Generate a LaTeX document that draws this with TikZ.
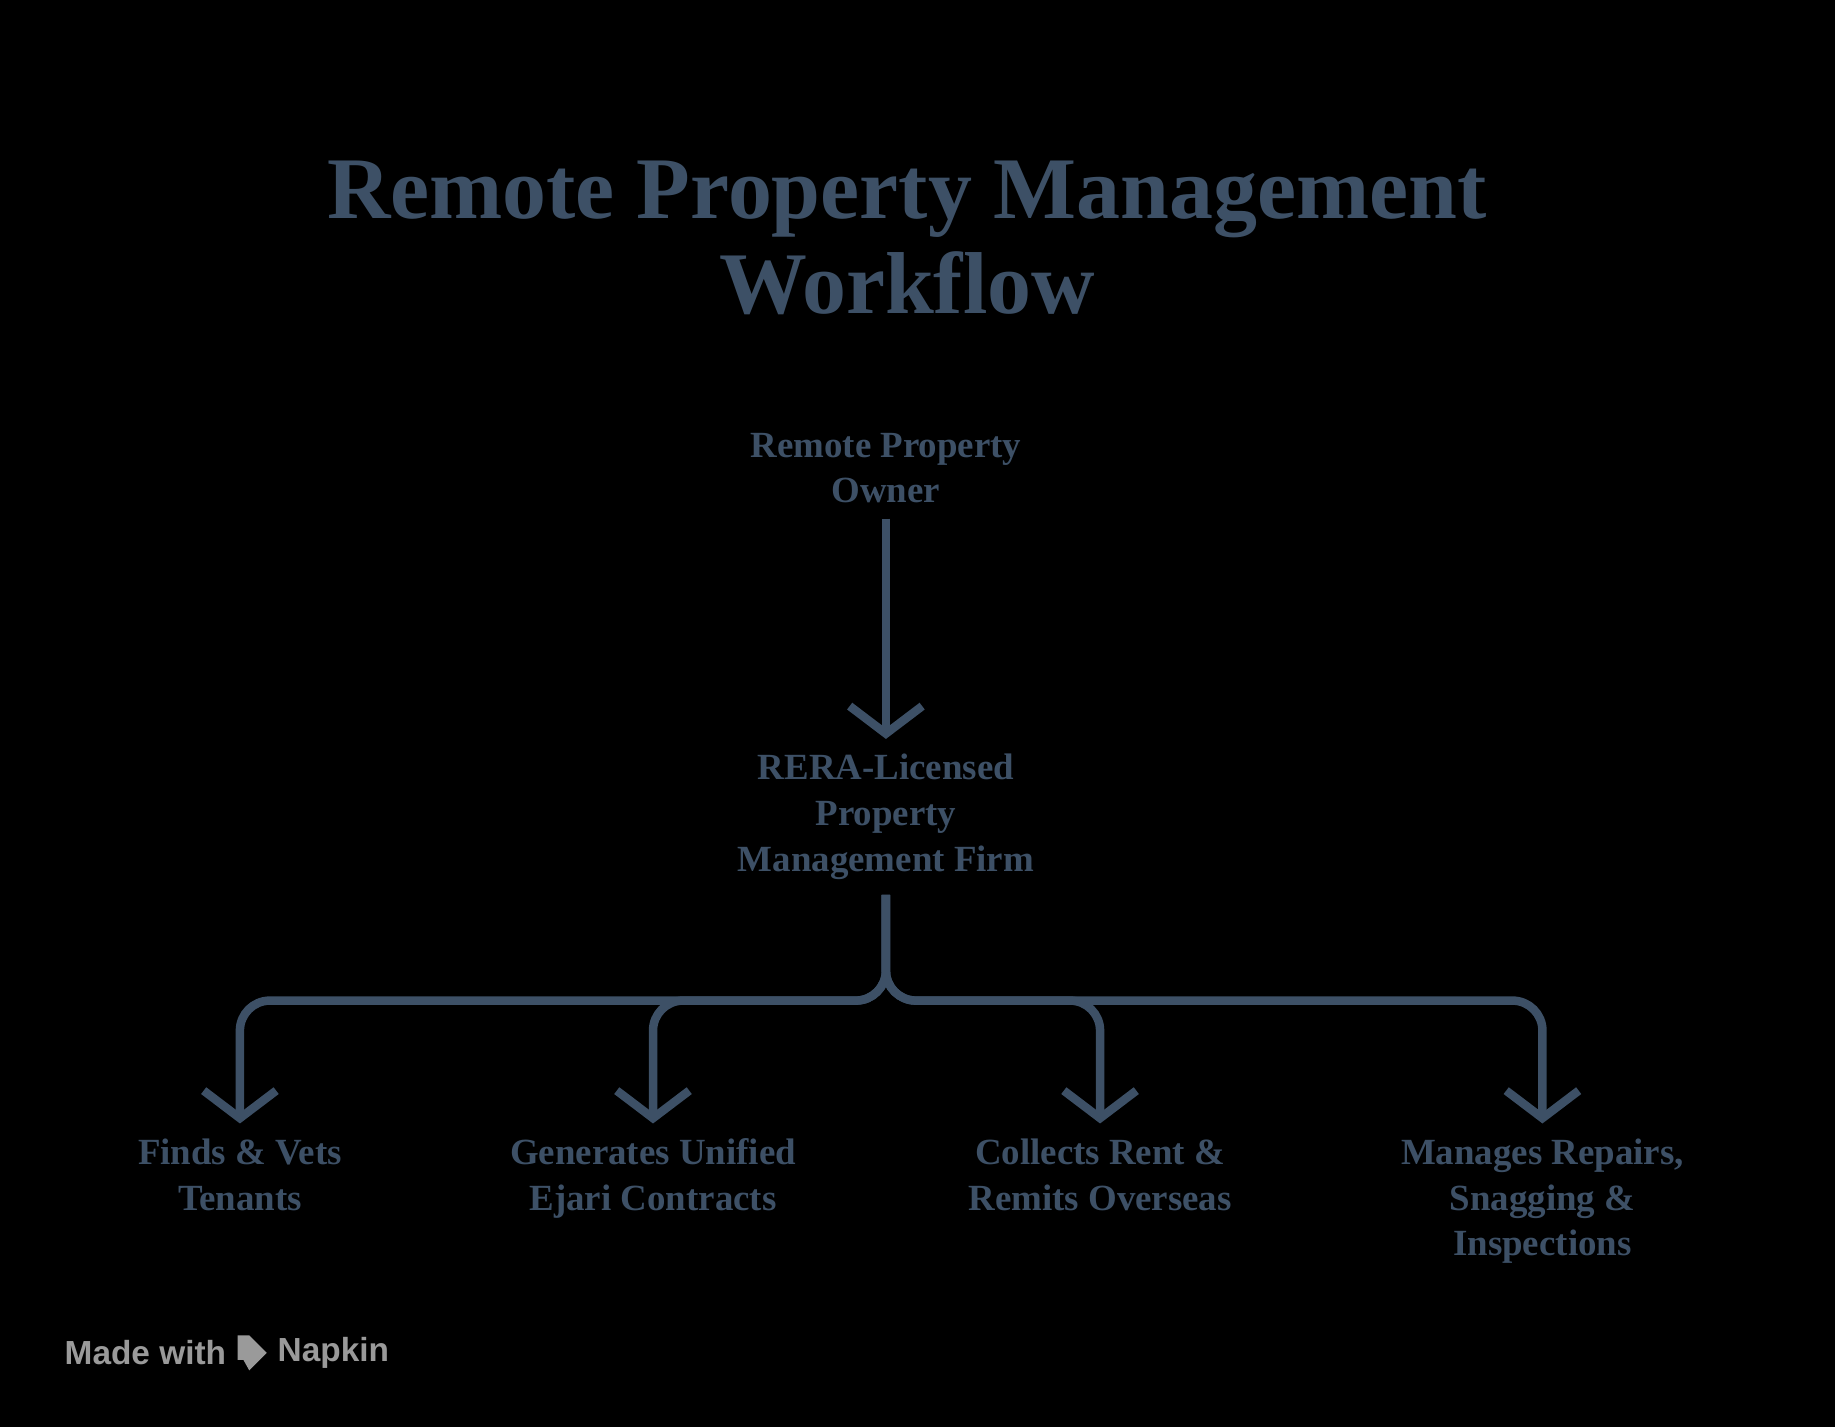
\documentclass[tikz,border=0pt]{standalone}
\usepackage{fontspec}
\setmainfont{Liberation Serif}
\setsansfont{Liberation Sans}
\usetikzlibrary{arrows.meta}
\definecolor{slate}{HTML}{3D5066}
\definecolor{napkin}{HTML}{9A9A9A}
\tikzset{
  stage/.style={align=center,text=slate,inner sep=0.3cm,font=\fontsize{21}{26}\selectfont\bfseries},
  flow/.style={draw=slate,line width=0.17cm,rounded corners=0.6cm,
    -{Straight Barb[length=0.55cm,width=1.45cm,line width=0.17cm]}}
}
\begin{document}
\begin{tikzpicture}[x=0.023406cm,y=-0.023406cm]
\fill[black] (0,0) rectangle (1568,1219);
\useasboundingbox (0,0) rectangle (1568,1219);
% title
\node[text=slate,align=center,font=\fontsize{50}{54}\selectfont\bfseries] (title) at (775,203)
  {Remote Property Management\\Workflow};
% nodes
\node[stage] (owner) at (757,400) {Remote Property\\Owner};
\node[stage] (firm) at (757,698) {RERA-Licensed\\Property\\Management Firm};
\node[stage,anchor=north] (tenants) at (205,960) {Finds \& Vets\\Tenants};
\node[stage,anchor=north] (ejari) at (558,960) {Generates Unified\\Ejari Contracts};
\node[stage,anchor=north] (rent) at (940,960) {Collects Rent \&\\Remits Overseas};
\node[stage,anchor=north] (repairs) at (1318,960) {Manages Repairs,\\Snagging \&\\Inspections};
\coordinate (split) at (757,855);
% connectors
\draw[flow] (owner) -- (firm);
\foreach \t in {tenants,ejari,rent,repairs}
  \draw[flow] (firm.south) -- (split) -| (\t.north);
% footer
\node[text=napkin,anchor=west,font=\sffamily\fontsize{19}{22}\selectfont\bfseries] (made) at (50,1156) {Made with};
\fill[napkin] (203,1141) -- (213,1141) -- (228,1156) -- (213,1171) -- (208,1162) -- (203,1162) -- cycle;
\node[text=napkin,anchor=west,font=\sffamily\fontsize{19}{22}\selectfont\bfseries] (brand) at (232,1156) {Napkin};
\end{tikzpicture}
\end{document}
